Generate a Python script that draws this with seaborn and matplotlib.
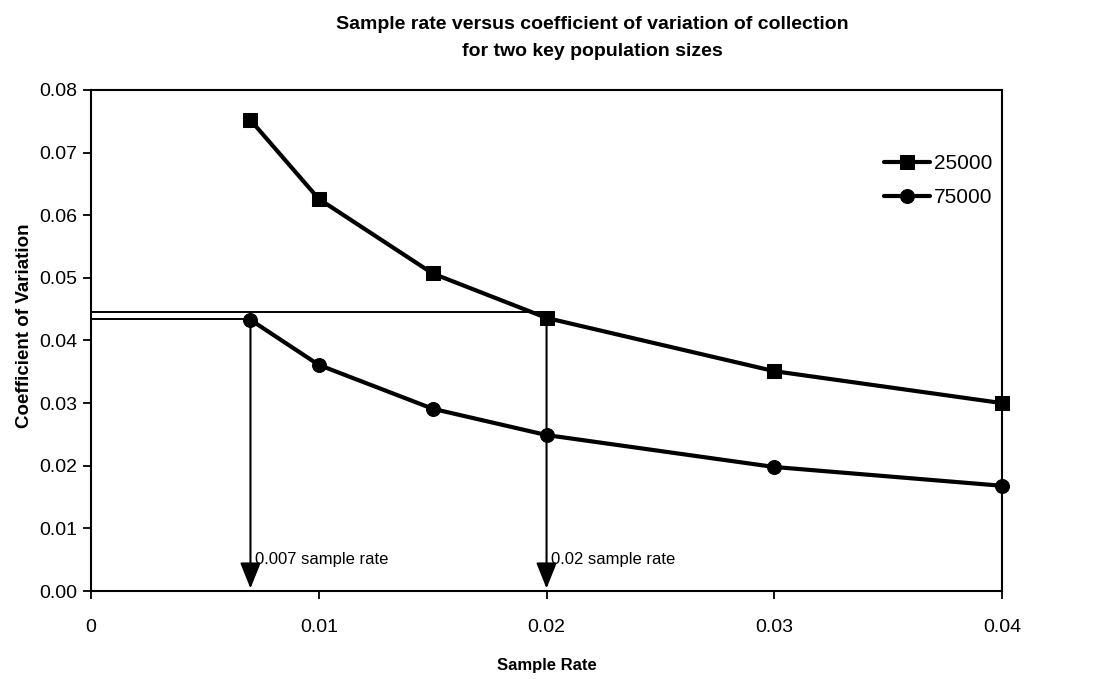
import numpy as np
import pandas as pd
import seaborn as sns
import matplotlib
matplotlib.use("Agg")
import matplotlib.pyplot as plt

# Values
sample_rate = [0.007, 0.01, 0.015, 0.02, 0.03, 0.04]
cv_25000 = [0.0752, 0.0626, 0.0507, 0.0436, 0.0351, 0.0300]
cv_75000 = [0.0433, 0.0361, 0.0291, 0.0249, 0.0198, 0.0168]
series_names = ["25000", "75000"]

# Reference lines for the two chosen sample rates
ref_rates = [0.007, 0.02]
ref_cv = [0.0435, 0.0446]
ref_from = [cv_75000[0], cv_25000[3]]
ref_labels = ["0.007 sample rate", "0.02 sample rate"]

x_ticks = [0, 0.01, 0.02, 0.03, 0.04]
x_tick_labels = ["0", "0.01", "0.02", "0.03", "0.04"]
y_ticks = [0.0, 0.01, 0.02, 0.03, 0.04, 0.05, 0.06, 0.07, 0.08]

df = pd.DataFrame({
    "Sample Rate": sample_rate * 2,
    "CV": cv_25000 + cv_75000,
    "Population": [series_names[0]] * len(sample_rate) + [series_names[1]] * len(sample_rate),
})

sns.set_style("white")
plt.rcParams["font.family"] = ["Liberation Sans", "DejaVu Sans"]
plt.rcParams["text.color"] = "black"
plt.rcParams["axes.labelcolor"] = "black"

fig = plt.figure(figsize=(11.13, 6.79), dpi=100)
ax = fig.add_axes([0.0818, 0.1296, 0.8185, 0.7379])

sns.lineplot(
    data=df, x="Sample Rate", y="CV", hue="Population", style="Population",
    palette=["black", "black"], markers=["s", "o"], dashes=False,
    markersize=10, linewidth=3, markeredgecolor="black", ax=ax, clip_on=False,
)

# horizontal guide lines from the y axis to the points
for r, c in zip(ref_rates, ref_cv):
    ax.plot([0, r], [c, c], color="black", lw=1.4, zorder=1)

# vertical arrows down to the x axis
for r, y0, lab in zip(ref_rates, ref_from, ref_labels):
    ax.annotate(
        "", xy=(r, 0.0004), xytext=(r, y0),
        arrowprops=dict(arrowstyle="-|>,head_length=0.8,head_width=0.32",
                        color="black", lw=1.5, mutation_scale=20,
                        shrinkA=0, shrinkB=0),
        zorder=1,
    )
    ax.text(r + 0.0002, 0.0050, lab, fontsize=12, va="center", ha="left")

ax.set_xlim(0, 0.04)
ax.set_ylim(0, 0.08)
ax.set_xticks(x_ticks)
ax.set_xticklabels(x_tick_labels)
ax.set_yticks(y_ticks)
ax.set_yticklabels([f"{v:.2f}" for v in y_ticks])
ax.tick_params(axis="both", labelsize=14, direction="out", length=6, width=1.3,
               colors="black", bottom=True, left=True)
ax.tick_params(axis="x", pad=14)
ax.tick_params(axis="y", pad=4)

for s in ax.spines.values():
    s.set_color("black")
    s.set_linewidth(1.5)

ax.set_xlabel("Sample Rate", fontsize=12, fontweight="bold", labelpad=16)
ax.set_ylabel("Coefficient of Variation", fontsize=13.5, fontweight="bold")
ax.yaxis.set_label_coords(-0.064, 0.53)

leg = ax.legend(loc="upper right", bbox_to_anchor=(1.01, 0.91), frameon=False,
                fontsize=15, handlelength=2.2, handletextpad=0.2, labelspacing=0.75)
for h in leg.legend_handles:
    h.set_linewidth(3)

fig.text(0.532, 0.976, "Sample rate versus coefficient of variation of collection\nfor two key population sizes",
         ha="center", va="top", fontsize=14, fontweight="bold", linespacing=1.75)

plt.savefig("out.png", dpi=100)
plt.close()
